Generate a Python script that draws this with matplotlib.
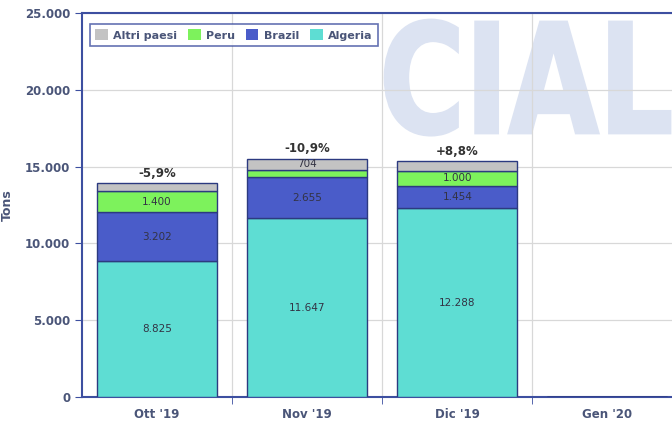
import numpy as np
import matplotlib
matplotlib.use("Agg")
from matplotlib import pyplot as plt
from matplotlib.ticker import FuncFormatter, FixedLocator
from matplotlib.textpath import TextPath
from matplotlib.font_manager import FontProperties
from matplotlib.patches import PathPatch
from matplotlib.transforms import Affine2D

# data
months = ["Ott '19", "Nov '19", "Dic '19", "Gen '20"]
algeria = [8825, 11647, 12288, 0]
brazil = [3202, 2655, 1454, 0]
peru = [1400, 500, 1000, 0]
altri = [480, 704, 600, 0]
changes = ["-5,9%", "-10,9%", "+8,8%", ""]
shown_algeria = ["8.825", "11.647", "12.288", ""]
shown_brazil = ["3.202", "2.655", "1.454", ""]
shown_peru = ["1.400", "", "1.000", ""]
shown_altri = ["", "704", "", ""]

series = [
    ("Algeria", algeria, "#5EDDD3", shown_algeria),
    ("Brazil", brazil, "#4A5CC9", shown_brazil),
    ("Peru", peru, "#7DF25C", shown_peru),
    ("Altri paesi", altri, "#C3C3C3", shown_altri),
]

axis_col = "#3D4FA0"
text_col = "#4A5578"

fig = plt.figure(figsize=(6.72, 4.25), dpi=100)
ax = fig.add_axes([0.122, 0.066, 0.878, 0.903])

x = np.arange(len(months))
bottom = np.zeros(len(months))
handles = {}
for name, vals, col, shown in series:
    vals = np.array(vals, dtype=float)
    b = ax.bar(x, vals, 0.8, bottom=bottom, color=col, edgecolor="#2C3A80",
               linewidth=1.0, zorder=3)
    handles[name] = b
    for i, s in enumerate(shown):
        if s:
            ax.text(x[i], bottom[i] + vals[i] / 2, s, ha="center", va="center",
                    fontsize=7.5, color="#333344", zorder=4)
    bottom += vals

for i, c in enumerate(changes):
    if c:
        ax.text(x[i], bottom[i] + 250, c, ha="center", va="bottom",
                fontsize=8.5, fontweight="bold", color="#333333", zorder=4)

# watermark, squeezed into its box (figure fraction)
wm = TextPath((0, 0), "CIAL", size=1, prop=FontProperties(family="DejaVu Sans", weight="bold"))
ext = wm.get_extents()
x0, x1, y0, y1 = 0.573, 0.997, 0.682, 0.953
tr = (Affine2D().translate(-ext.x0, -ext.y0)
      .scale((x1 - x0) / ext.width, (y1 - y0) / ext.height)
      .translate(x0, y0))
wm_patch = PathPatch(tr.transform_path(wm), facecolor="#DCE3F2", edgecolor="#DCE3F2",
                     linewidth=2, transform=fig.transFigure, clip_on=False, zorder=0.2)
ax.add_patch(wm_patch)

ax.set_xlim(-0.5, 3.43)
ax.set_ylim(0, 25000)
ax.yaxis.set_major_locator(FixedLocator(np.arange(0, 25001, 5000)))
ax.yaxis.set_major_formatter(FuncFormatter(lambda v, p: f"{int(v):,}".replace(",", ".")))
ax.set_xticks(x)
ax.set_xticklabels(months)
ax.set_xticks(np.arange(0.5, 3.5, 1), minor=True)
ax.tick_params(axis="x", which="major", length=0, pad=8, labelsize=8.5,
               labelcolor=text_col)
ax.tick_params(axis="x", which="minor", length=5, color=axis_col)
ax.tick_params(axis="y", length=5, color=axis_col, labelsize=8.5, labelcolor=text_col)
for lab in ax.get_xticklabels() + ax.get_yticklabels():
    lab.set_fontweight("bold")

ax.grid(axis="y", color="#D8D8D8", linewidth=0.9, zorder=0)
ax.grid(axis="x", which="minor", color="#D8D8D8", linewidth=0.9, zorder=0)
ax.set_axisbelow(True)

for side in ["left", "bottom", "top"]:
    ax.spines[side].set_color(axis_col)
    ax.spines[side].set_linewidth(1.5)
ax.spines["right"].set_visible(False)

ax.set_ylabel("Tons", fontsize=9, fontweight="bold", color=text_col, labelpad=8)

order = ["Altri paesi", "Peru", "Brazil", "Algeria"]
leg = ax.legend([handles[n] for n in order], order, loc="upper left", ncol=4,
                bbox_to_anchor=(0.005, 0.985), frameon=True, fancybox=False,
                fontsize=8, handlelength=1.1, handleheight=1.1, columnspacing=1.0,
                handletextpad=0.5, borderpad=0.45)
leg.get_frame().set_edgecolor(axis_col)
leg.get_frame().set_linewidth(1.2)
for t in leg.get_texts():
    t.set_color(text_col)
    t.set_fontweight("bold")
for h in leg.legend_handles:
    h.set_edgecolor("none")

fig.savefig("out.png", dpi=100)
